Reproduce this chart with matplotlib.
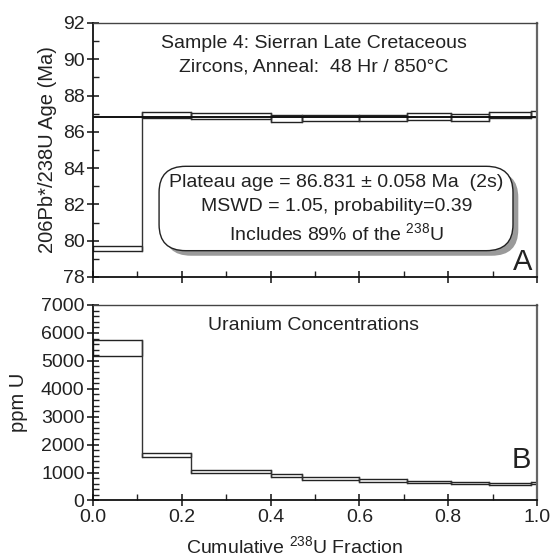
import matplotlib
matplotlib.use("Agg")
import matplotlib.pyplot as plt
from matplotlib.patches import Rectangle, FancyBboxPatch
from matplotlib.ticker import MultipleLocator

plt.rcParams['font.family'] = ['Liberation Sans', 'DejaVu Sans']
plt.rcParams['mathtext.fontset'] = 'custom'
plt.rcParams['mathtext.rm'] = 'Liberation Sans'
plt.rcParams['mathtext.it'] = 'Liberation Sans:italic'

# Step boundaries (cumulative 238U fraction)
frac_edges = [0.0, 0.11, 0.22, 0.40, 0.47, 0.60, 0.708, 0.806, 0.892, 0.986, 1.0]
# Age boxes (Ma): upper and lower 2s bounds
age_hi = [79.73, 87.08, 87.06, 86.92, 86.95, 86.94, 87.03, 87.00, 87.12, 87.16]
age_lo = [79.42, 86.78, 86.71, 86.55, 86.60, 86.58, 86.66, 86.62, 86.77, 86.80]
plateau_age = 86.831
# Uranium concentration boxes (ppm)
u_hi = [5741, 1712, 1103, 960, 835, 759, 709, 662, 638, 655]
u_lo = [5177, 1568, 985, 841, 740, 662, 615, 579, 543, 585]

FS = 14
TXT = '#222'

fig = plt.figure(figsize=(5.53, 5.59), dpi=100)
axA = fig.add_axes([0.168, 0.5045, 0.803, 0.4544])
axB = fig.add_axes([0.168, 0.1047, 0.803, 0.3497])

def style_axes(ax, ymaj, ymin):
    ax.set_xlim(0, 1)
    ax.xaxis.set_major_locator(MultipleLocator(0.2))
    ax.xaxis.set_minor_locator(MultipleLocator(0.1))
    ax.yaxis.set_major_locator(MultipleLocator(ymaj))
    ax.yaxis.set_minor_locator(MultipleLocator(ymin))
    ax.tick_params(which='major', direction='inout', length=8, width=1.2, labelsize=FS,
                   top=False, right=False, colors=TXT, pad=2)
    ax.tick_params(which='minor', direction='in', length=4, width=1.0, top=False, right=False, color=TXT)
    for s in ['left', 'bottom']:
        ax.spines[s].set_color('#111')
        ax.spines[s].set_linewidth(1.3)
    ax.spines['top'].set_color('#444')
    ax.spines['top'].set_linewidth(1.0)
    ax.spines['right'].set_color('#666')
    ax.spines['right'].set_linewidth(1.6)

# Panel A
style_axes(axA, 2, 1)
axA.set_ylim(78, 92)
axA.tick_params(labelbottom=False)
for i in range(len(age_hi)):
    x0, x1 = frac_edges[i], frac_edges[i + 1]
    axA.add_patch(Rectangle((x0, age_lo[i]), x1 - x0, age_hi[i] - age_lo[i],
                            facecolor='none', edgecolor='#222', linewidth=1.0))
for i in range(len(age_hi) - 1):
    x = frac_edges[i + 1]
    axA.plot([x, x], [min(age_lo[i], age_lo[i + 1]), max(age_hi[i], age_hi[i + 1])],
             color='#333', lw=1.0)
axA.axhline(plateau_age, color='#111', lw=1.4)
axA.set_ylabel('206Pb*/238U Age (Ma)', fontsize=14.5, color=TXT, labelpad=4)
axA.text(0.497, 90.85, 'Sample 4: Sierran Late Cretaceous', ha='center', va='center',
         fontsize=FS, color=TXT)
axA.text(0.497, 89.55, 'Zircons, Anneal:  48 Hr / 850\u00b0C', ha='center', va='center',
         fontsize=FS, color=TXT)

# Plateau box with shadow
bx0, bx1 = 0.149, 0.946
by0, by1 = 79.45, 84.1
shadow = FancyBboxPatch((bx0 + 0.012, by0 - 0.28), bx1 - bx0, by1 - by0,
                        boxstyle='round,pad=0,rounding_size=0.06', mutation_aspect=24,
                        facecolor='#9a9a9a', edgecolor='none', zorder=3)
box = FancyBboxPatch((bx0, by0), bx1 - bx0, by1 - by0,
                     boxstyle='round,pad=0,rounding_size=0.06', mutation_aspect=24,
                     facecolor='white', edgecolor='#222', linewidth=1.0, zorder=4)
axA.add_patch(shadow)
axA.add_patch(box)
axA.text(0.548, 83.2, 'Plateau age = 86.831 \u00b1 0.058 Ma  (2s)', ha='center', va='center',
         fontsize=FS, color=TXT, zorder=5)
axA.text(0.548, 81.87, 'MSWD = 1.05, probability=0.39', ha='center', va='center',
         fontsize=FS, color=TXT, zorder=5)
axA.text(0.548, 80.4, r'Includes 89% of the $^{\mathrm{238}}$U', ha='center', va='center',
         fontsize=FS, color=TXT, zorder=5)
axA.text(0.968, 78.85, 'A', ha='center', va='center', fontsize=21, color=TXT)

# Panel B
style_axes(axB, 1000, 200)
axB.set_ylim(0, 7000)
for i in range(len(u_hi)):
    x0, x1 = frac_edges[i], frac_edges[i + 1]
    axB.add_patch(Rectangle((x0, u_lo[i]), x1 - x0, u_hi[i] - u_lo[i],
                            facecolor='none', edgecolor='#222', linewidth=1.0))
for i in range(len(u_hi) - 1):
    x = frac_edges[i + 1]
    axB.plot([x, x], [min(u_lo[i], u_lo[i + 1]), max(u_hi[i], u_hi[i + 1])],
             color='#333', lw=1.0)
axB.set_ylabel('ppm U', fontsize=14.5, color=TXT, labelpad=9)
axB.text(0.497, 6250, 'Uranium Concentrations', ha='center', va='center',
         fontsize=FS, color=TXT)
axB.text(0.965, 1450, 'B', ha='center', va='center', fontsize=21, color=TXT)
axB.set_xticks([0, 0.2, 0.4, 0.6, 0.8, 1.0])
axB.set_xticklabels(['0.0', '0.2', '0.4', '0.6', '0.8', '1.0'])
fig.text(295 / 553, 1 - 546 / 559, r'Cumulative $^{\mathrm{238}}$U Fraction', ha='center',
         va='center', fontsize=FS, color=TXT)

fig.savefig('out.png', dpi=100)
